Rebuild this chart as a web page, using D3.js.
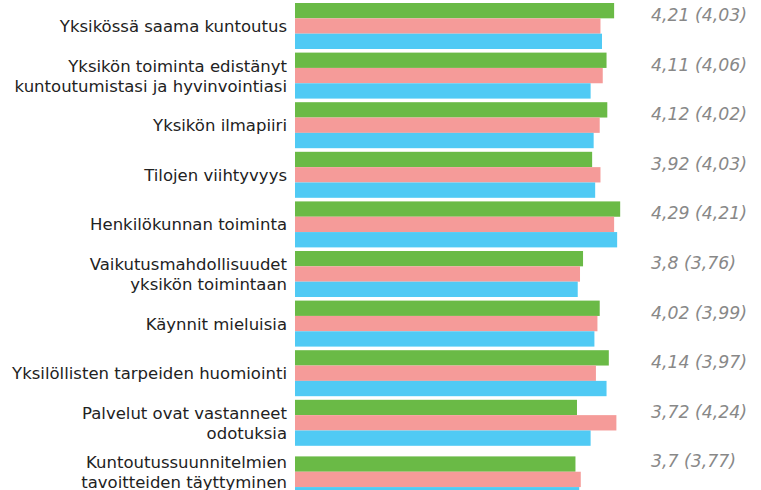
<!DOCTYPE html>
<html>
<head>
<meta charset="utf-8">
<script src="https://cdn.jsdelivr.net/npm/d3@7"></script>
<style>
  body { margin: 0; background: #fff; }
  svg { display: block; }
</style>
</head>
<body>
<script>
// categories (label lines)
var categories = [
  ["Yksikössä saama kuntoutus"],
  ["Yksikön toiminta edistänyt", "kuntoutumistasi ja hyvinvointiasi"],
  ["Yksikön ilmapiiri"],
  ["Tilojen viihtyvyys"],
  ["Henkilökunnan toiminta"],
  ["Vaikutusmahdollisuudet", "yksikön toimintaan"],
  ["Käynnit mieluisia"],
  ["Yksilöllisten tarpeiden huomiointi"],
  ["Palvelut ovat vastanneet", "odotuksia"],
  ["Kuntoutussuunnitelmien", "tavoitteiden täyttyminen"]
];
var green = [4.21, 4.11, 4.12, 3.92, 4.29, 3.8, 4.02, 4.14, 3.72, 3.7];
var pink  = [4.03, 4.06, 4.02, 4.03, 4.21, 3.76, 3.99, 3.97, 4.24, 3.77];
var blue  = [4.05, 3.90, 3.94, 3.96, 4.25, 3.73, 3.95, 4.11, 3.90, 3.75];
var labels = ["4,21 (4,03)", "4,11 (4,06)", "4,12 (4,02)", "3,92 (4,03)", "4,29 (4,21)",
              "3,8 (3,76)", "4,02 (3,99)", "4,14 (3,97)", "3,72 (4,24)", "3,7 (3,77)"];
var seriesNames = ["green", "pink", "blue"];
var colors = ["#6aba46", "#f59b99", "#50caf4"];

var W = 761, H = 490;
var svg = d3.select("body").append("svg").attr("width", W).attr("height", H);

var idx = d3.range(categories.length);
var y = d3.scaleBand().domain(idx).range([3, 495.4]).paddingInner(0.0726).paddingOuter(0);
var ySub = d3.scaleBand().domain(seriesNames).range([0, y.bandwidth()]);
var x = d3.scaleLinear().domain([0, 5]).range([295, 674]);

var data = [green, pink, blue];
var last = categories.length - 1;

var groups = svg.selectAll("g.grp").data(idx).enter().append("g")
  .attr("class", "grp")
  .attr("transform", function(i) { return "translate(0," + y(i) + ")"; });

// the last group's bars sit a bit lower in the original
groups.selectAll("rect").data(function(i) {
    return seriesNames.map(function(s, k) { return {s: s, v: data[k][i], c: colors[k], i: i}; });
  }).enter().append("rect")
  .attr("x", x(0))
  .attr("y", function(d) { return ySub(d.s) + (d.i === last ? 7 : 0); })
  .attr("height", ySub.bandwidth())
  .attr("width", function(d) { return x(d.v) - x(0); })
  .attr("fill", function(d) { return d.c; });

// category labels
groups.append("text")
  .attr("text-anchor", "end")
  .attr("font-family", "DejaVu Sans, Verdana, sans-serif")
  .attr("font-size", "16.5px")
  .attr("fill", "#222")
  .each(function(i) {
    var lines = categories[i];
    var t = d3.select(this);
    var mid = y.bandwidth() / 2;
    var lh = 20;
    lines.forEach(function(l, j) {
      t.append("tspan")
        .attr("x", 287)
        .attr("y", mid + 6 + (j - (lines.length - 1) / 2) * lh)
        .text(l);
    });
  });

// value labels
groups.append("text")
  .attr("x", 651)
  .attr("y", 18)
  .attr("font-family", "DejaVu Sans, Verdana, sans-serif")
  .attr("font-style", "italic")
  .attr("font-size", "17.3px")
  .attr("fill", "#888")
  .text(function(i) { return labels[i]; });
</script>
</body>
</html>
